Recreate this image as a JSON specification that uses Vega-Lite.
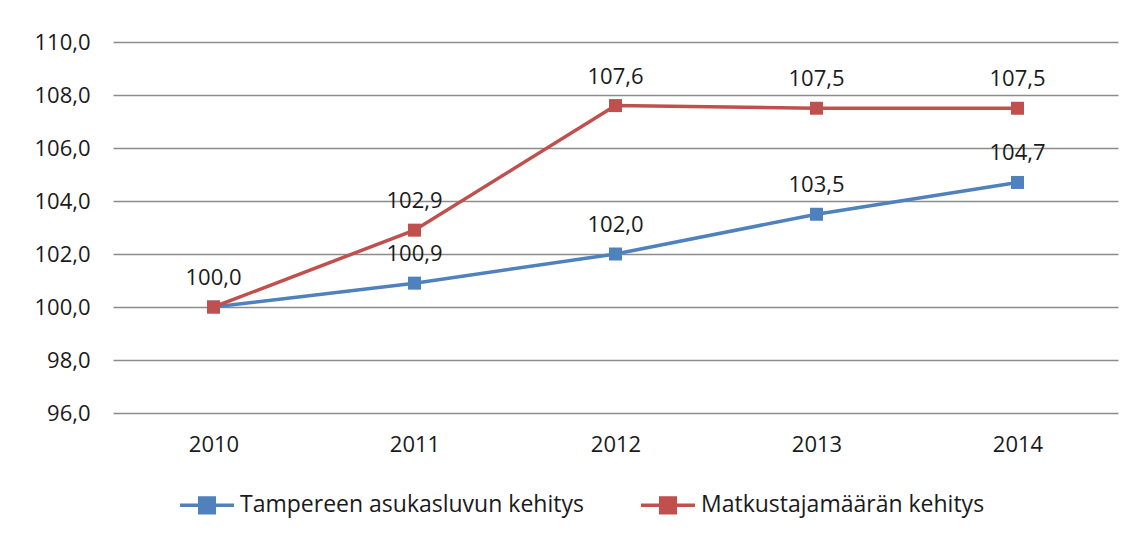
{
  "$schema": "https://vega.github.io/schema/vega-lite/v6.json",
  "width": 1005,
  "height": 371,
  "autosize": {"type": "none"},
  "padding": {"left": 113, "top": 42, "right": 16, "bottom": 126},
  "background": "white",
  "config": {
    "locale": {"number": {"decimal": ",", "thousands": " ", "grouping": [3], "currency": ["", " €"]}},
    "view": {"stroke": null},
    "font": "Open Sans",
    "text": {"font": "Open Sans"}
  },
  "data": {
    "values": [
      {"year": "2010", "series": "Tampereen asukasluvun kehitys", "value": 100.0},
      {"year": "2011", "series": "Tampereen asukasluvun kehitys", "value": 100.9},
      {"year": "2012", "series": "Tampereen asukasluvun kehitys", "value": 102.0},
      {"year": "2013", "series": "Tampereen asukasluvun kehitys", "value": 103.5},
      {"year": "2014", "series": "Tampereen asukasluvun kehitys", "value": 104.7},
      {"year": "2010", "series": "Matkustajamäärän kehitys", "value": 100.0},
      {"year": "2011", "series": "Matkustajamäärän kehitys", "value": 102.9},
      {"year": "2012", "series": "Matkustajamäärän kehitys", "value": 107.6},
      {"year": "2013", "series": "Matkustajamäärän kehitys", "value": 107.5},
      {"year": "2014", "series": "Matkustajamäärän kehitys", "value": 107.5}
    ]
  },
  "encoding": {
    "x": {
      "field": "year", "type": "ordinal", "title": null,
      "scale": {"type": "point", "padding": 0.5},
      "axis": {"domain": false, "ticks": false, "labelAngle": 0, "labelPadding": 21, "labelFontSize": 22, "labelColor": "#1a1a1a", "labelFont": "Open Sans"}
    },
    "y": {
      "field": "value", "type": "quantitative", "title": null,
      "scale": {"domain": [96, 110], "nice": false, "zero": false},
      "axis": {"values": [96, 98, 100, 102, 104, 106, 108, 110], "format": ".1f", "domain": false, "ticks": false, "labelPadding": 23, "labelFontSize": 22, "labelColor": "#1a1a1a", "labelFont": "Open Sans", "gridColor": "#8c8c8c", "gridWidth": 1.5}
    },
    "color": {
      "field": "series", "type": "nominal", "title": null,
      "sort": ["Tampereen asukasluvun kehitys", "Matkustajamäärän kehitys"],
      "scale": {"domain": ["Tampereen asukasluvun kehitys", "Matkustajamäärän kehitys"], "range": ["#4F81BD", "#C0504D"]},
      "legend": {
        "orient": "none", "direction": "horizontal", "legendX": 65, "legendY": 434,
        "symbolType": "M-1,0H1M-0.27,-0.27H0.27V0.27H-0.27Z",
        "symbolSize": 2916, "symbolStrokeWidth": 3.5, "symbolOpacity": 1,
        "labelFontSize": 23, "labelFont": "Open Sans", "labelColor": "#1a1a1a", "labelOffset": 4, "labelLimit": 0,
        "columnPadding": 50, "symbolLimit": 0
      }
    }
  },
  "layer": [
    {"mark": {"type": "line", "strokeWidth": 3.5}},
    {"mark": {"type": "point", "shape": "square", "filled": true, "size": 169, "opacity": 1}},
    {
      "transform": [{"filter": "datum.series == 'Matkustajamäärän kehitys' || datum.year != '2010'"}],
      "mark": {"type": "text", "dy": -29, "fontSize": 22, "font": "Open Sans", "color": "#1a1a1a"},
      "encoding": {"text": {"field": "value", "type": "quantitative", "format": ".1f"}, "color": {"value": "#1a1a1a"}}
    }
  ]
}
